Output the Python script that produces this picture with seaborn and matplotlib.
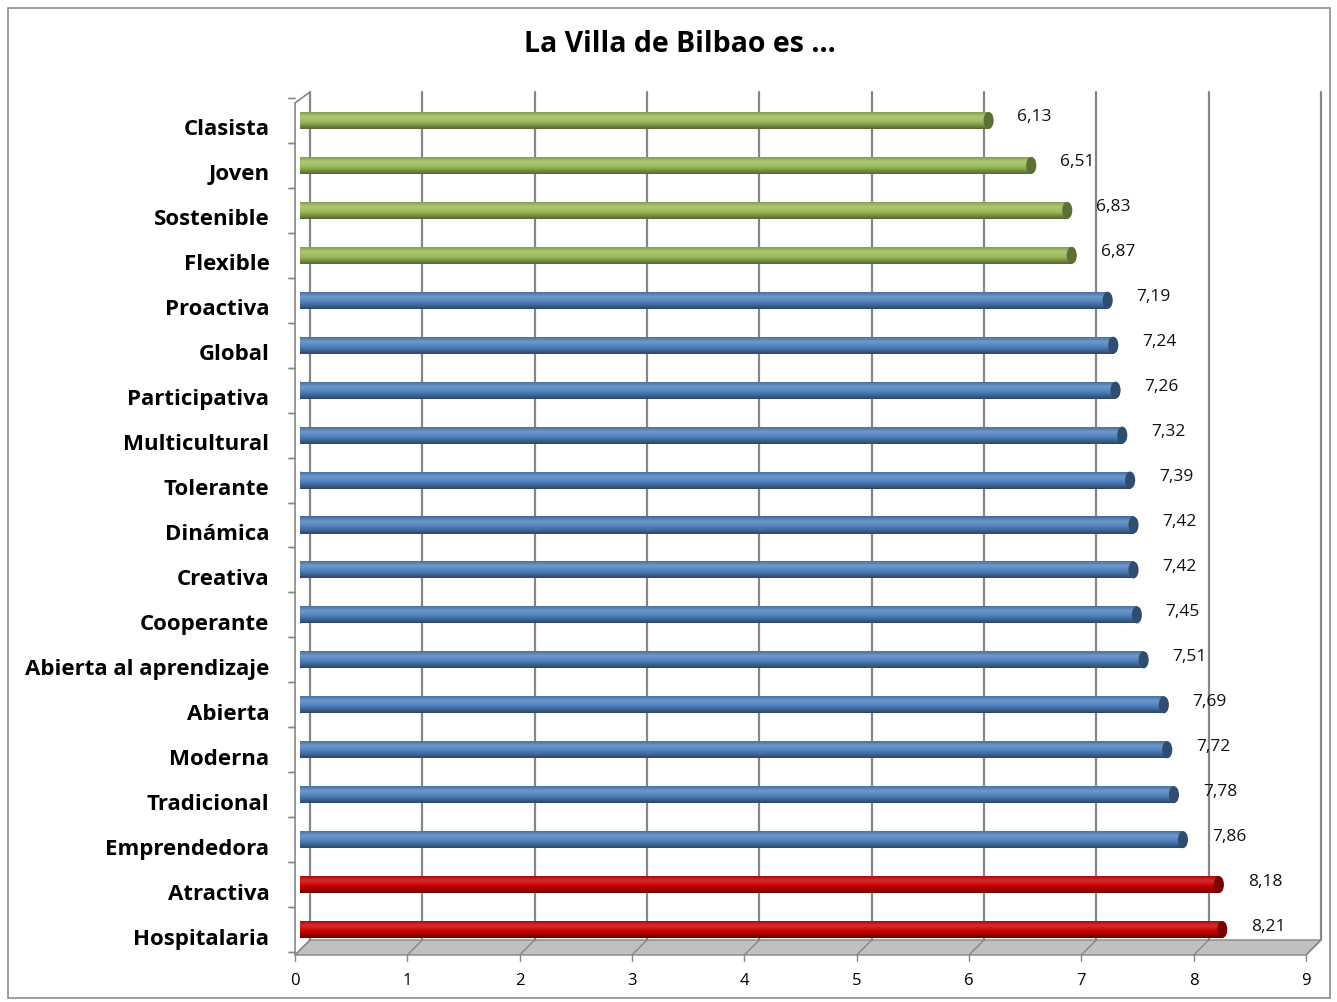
"""La Villa de Bilbao es ... : horizontal bar chart in the Excel 3D-cylinder style."""

import matplotlib

matplotlib.use("Agg")
import matplotlib.pyplot as plt
import matplotlib.transforms as mtransforms
import numpy as np
import pandas as pd
import seaborn as sns
from matplotlib.colors import LinearSegmentedColormap, to_rgb
from matplotlib.patches import Ellipse, Polygon, Rectangle

sns.set_style("white")
plt.rcParams["font.family"] = ["Open Sans", "DejaVu Sans"]
plt.rcParams["text.color"] = "black"
plt.rcParams["xtick.color"] = "black"
plt.rcParams["ytick.color"] = "black"

TITLE = "La Villa de Bilbao es ..."
LABELS = [
    "Clasista", "Joven", "Sostenible", "Flexible", "Proactiva", "Global",
    "Participativa", "Multicultural", "Tolerante", "Dinámica", "Creativa",
    "Cooperante", "Abierta al aprendizaje", "Abierta", "Moderna", "Tradicional",
    "Emprendedora", "Atractiva", "Hospitalaria",
]
VALUES = [
    6.13, 6.51, 6.83, 6.87, 7.19, 7.24, 7.26, 7.32, 7.39, 7.42, 7.42,
    7.45, 7.51, 7.69, 7.72, 7.78, 7.86, 8.18, 8.21,
]
GROUPS = ["low"] * 4 + ["mid"] * 13 + ["high"] * 2
PALETTE = {"low": "#9BBB59", "mid": "#4F81BD", "high": "#CC0000"}
XTICKS = list(range(10))

W, H = 1337, 1002
AX_L, AX_R, AX_T, AX_B = 300, 1311, 98, 952  # axes box in pixels
GRID = "#868686"


def shade(c, f):
    r = np.array(to_rgb(c))
    return tuple(r * f) if f <= 1 else tuple(r + (1 - r) * (f - 1))


def ay(py):
    """pixel row -> axes y fraction"""
    return (AX_B - py) / (AX_B - AX_T)


df = pd.DataFrame({"label": LABELS, "value": VALUES, "group": GROUPS})

fig = plt.figure(figsize=(W / 100, H / 100), dpi=100)
ax = fig.add_axes([AX_L / W, 1 - AX_B / H, (AX_R - AX_L) / W, (AX_B - AX_T) / H])

sns.barplot(data=df, x="value", y="label", hue="group", palette=PALETTE,
            orient="h", width=0.38, dodge=False, legend=False, ax=ax,
            edgecolor="none", saturation=1)
ax.set_xlim(0, 9)
ylim = ax.get_ylim()

# cylinder shading: gradient clipped to each bar, plus rounded ends
for p in list(ax.patches):
    x0, y0, w, h = p.get_x(), p.get_y(), p.get_width(), p.get_height()
    c = p.get_facecolor()[:3]
    cmap = LinearSegmentedColormap.from_list(
        "cyl", [(0, shade(c, 0.8)), (0.3, shade(c, 1.18)), (0.6, c), (1, shade(c, 0.55))])
    grad = np.linspace(0, 1, 64).reshape(-1, 1)
    im = ax.imshow(grad, cmap=cmap, aspect="auto", extent=(x0, x0 + w, y0 + h, y0),
                   origin="upper", zorder=p.get_zorder() + 0.1)
    im.set_clip_path(p)
    ax.add_patch(Ellipse((x0 + w, y0 + h / 2), 0.09, h, facecolor=shade(c, 0.6),
                         edgecolor="none", zorder=p.get_zorder() + 0.2))
    ax.add_patch(Ellipse((x0, y0 + h / 2), 0.09, h, facecolor=shade(c, 0.85),
                         edgecolor="none", zorder=p.get_zorder() + 0.05))
ax.set_xlim(0, 9)
ax.set_ylim(ylim)

# value labels
for i, v in enumerate(VALUES):
    ax.annotate(f"{v:.2f}".replace(".", ","), (v, i), xytext=(46, 3),
                textcoords="offset pixels", ha="center", va="center", fontsize=12.5,
                color="#111111")

# 3D frame: back wall gridlines, floor, front axis
blend = mtransforms.blended_transform_factory(ax.transData, ax.transAxes)
back = mtransforms.offset_copy(blend, fig=fig, x=10, y=0, units="dots")
front = mtransforms.offset_copy(blend, fig=fig, x=-5, y=0, units="dots")
inv = ax.transAxes.inverted()


def to_axes(tr, x, y):
    return inv.transform(tr.transform((x, y)))


for k in XTICKS:
    ax.plot([k, k], [ay(940), ay(92)], color=GRID, lw=1.6, transform=back,
            clip_on=False, zorder=0.5)

poly = [to_axes(front, 0, ay(955)), to_axes(front, 9, ay(955)),
        to_axes(back, 9, ay(940)), to_axes(back, 0, ay(940))]
ax.add_patch(Polygon(poly, closed=True, transform=ax.transAxes, fc="#C0C0C0",
                     ec=GRID, lw=1, clip_on=False, zorder=0.3))
for k in XTICKS:
    a = to_axes(front, k, ay(955))
    b = to_axes(back, k, ay(940))
    ax.plot([a[0], b[0]], [a[1], b[1]], color=GRID, lw=1, transform=ax.transAxes,
            clip_on=False, zorder=0.4)
    ax.plot([k, k], [ay(955), ay(961)], color=GRID, lw=1, transform=front, clip_on=False)

# left (front) axis with category ticks and the top bevel
ax.plot([0, 0], [ay(955), ay(103)], color=GRID, lw=1.2, transform=front, clip_on=False)
a = to_axes(front, 0, ay(103))
b = to_axes(back, 0, ay(92))
ax.plot([a[0], b[0]], [a[1], b[1]], color=GRID, lw=1.2, transform=ax.transAxes, clip_on=False)
tick_tr = mtransforms.offset_copy(ax.transData, fig=fig, x=-5, y=0, units="dots")
for j in np.arange(-0.5, len(LABELS), 1.0):
    ax.plot([0, 0], [j, j], color=GRID, lw=1, transform=tick_tr, clip_on=False,
            marker=0, markersize=5, markeredgewidth=1)

for s in ax.spines.values():
    s.set_visible(False)
ax.grid(False)
ax.set_xlabel("")
ax.set_ylabel("")
ax.set_xticks(XTICKS)
ax.tick_params(axis="x", length=0, pad=15, labelsize=12, labelcolor="black")
ax.tick_params(axis="y", length=0, pad=22, labelsize=16, labelcolor="black")
for t in ax.get_yticklabels():
    t.set_fontweight("bold")
    t.set_transform(t.get_transform() + mtransforms.ScaledTranslation(0, -0.07, fig.dpi_scale_trans))
for t in ax.get_xticklabels():
    t.set_transform(t.get_transform() + mtransforms.ScaledTranslation(-0.05, 0, fig.dpi_scale_trans))

fig.text(680 / W, 1 - 44 / H, TITLE, ha="center", va="center", fontsize=20.5,
         fontweight="bold", color="black")
fig.patches.append(Rectangle((8 / W, 1 - 998 / H), 1322 / W, 990 / H, transform=fig.transFigure,
                             fill=False, ec="#8C8C8C", lw=1.2))

fig.savefig("out.png", dpi=100)
